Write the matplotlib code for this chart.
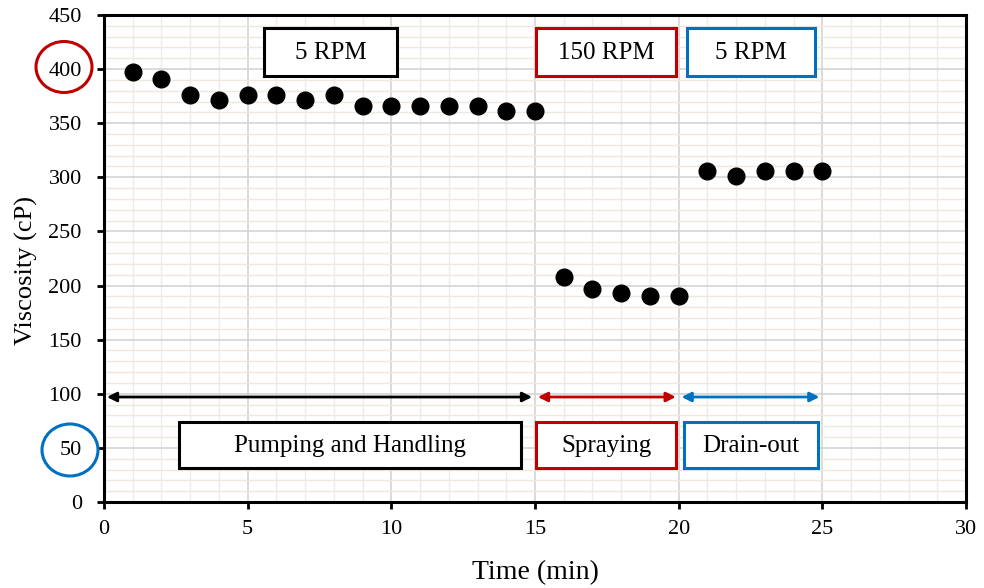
import matplotlib.pyplot as plt
from matplotlib.patches import Rectangle, Ellipse
from matplotlib.ticker import MultipleLocator

# Measured viscosity over time
time_min = [1, 2, 3, 4, 5, 6, 7, 8, 9, 10, 11, 12, 13, 14, 15,
            16, 17, 18, 19, 20,
            21, 22, 23, 24, 25]
viscosity_cp = [397, 391, 376, 371, 376, 376, 371, 376, 366, 366, 366, 366, 366, 361, 361,
                208, 197, 193, 190, 190,
                306, 301, 306, 306, 306]

# Stage labels and their time spans
stage_names = ["Pumping and Handling", "Spraying", "Drain-out"]
stage_speeds = ["5 RPM", "150 RPM", "5 RPM"]
stage_start = [0, 15, 20]
stage_end = [15, 20, 25]
stage_colors = ["black", "#C00000", "#0070C0"]

plt.rcParams['font.family'] = ['Liberation Serif', 'DejaVu Serif']

fig = plt.figure(figsize=(9.84, 5.88), dpi=100)
ax = fig.add_axes([0.1057, 0.1463, 0.876, 0.8282])

ax.plot(time_min, viscosity_cp, 'o', color='black', markersize=12, zorder=5)

ax.set_xlim(0, 30)
ax.set_ylim(0, 450)
ax.xaxis.set_major_locator(MultipleLocator(5))
ax.yaxis.set_major_locator(MultipleLocator(50))
ax.xaxis.set_minor_locator(MultipleLocator(1))
ax.yaxis.set_minor_locator(MultipleLocator(10))

# grid: gray majors, light minors (beige horizontal)
ax.grid(which='major', axis='both', color='#D4D4D4', linewidth=1.2, zorder=0)
ax.grid(which='minor', axis='x', color='#ECECEC', linewidth=1.0, zorder=0)
ax.grid(which='minor', axis='y', color='#EEE8DE', linewidth=1.0, zorder=0)
ax.set_axisbelow(True)

for side in ['left', 'bottom', 'top', 'right']:
    ax.spines[side].set_linewidth(2.2)
    ax.spines[side].set_color('black')

ax.tick_params(which='major', direction='out', length=5, width=2, colors='black')
ax.tick_params(axis='x', labelsize=16, pad=8)
ax.tick_params(axis='y', labelsize=16, pad=11)
ax.tick_params(which='minor', length=0)
ax.set_xlabel('Time (min)', fontsize=20, labelpad=15)
ax.set_ylabel('Viscosity (cP)', fontsize=19)
ax.yaxis.set_label_coords(-0.077, 0.476)

# stage arrows, speed boxes, stage name boxes
for name, speed, x0, x1, c in zip(stage_names, stage_speeds, stage_start, stage_end, stage_colors):
    ax.annotate('', xy=(x1 - 0.1, 97), xytext=(x0 + 0.1, 97),
                arrowprops=dict(arrowstyle='<|-|>', color=c, lw=2,
                                mutation_scale=14, shrinkA=0, shrinkB=0), zorder=6)

speed_box_x = [(5.57, 10.2), (15.05, 19.9), (20.3, 24.75)]
name_box_x = [(2.6, 14.5), (15.05, 19.9), (20.2, 24.85)]
for (a, b), speed, c in zip(speed_box_x, stage_speeds, stage_colors):
    ax.add_patch(Rectangle((a, 394), b - a, 44, facecolor='white', edgecolor=c,
                           linewidth=2.2, zorder=7))
    ax.text((a + b) / 2, 415, speed, ha='center', va='center', fontsize=18, zorder=8)
for (a, b), name, c in zip(name_box_x, stage_names, stage_colors):
    ax.add_patch(Rectangle((a, 31.5), b - a, 42.5, facecolor='white', edgecolor=c,
                           linewidth=2.2, zorder=7))
    ax.text((a + b) / 2, 52, name, ha='center', va='center', fontsize=18, zorder=8)

# highlight circles around tick labels
W, H = 984, 588
fig.add_artist(Ellipse((64 / W, 1 - 67 / H), 56 / W, 51 / H, transform=fig.transFigure,
                       fill=False, edgecolor='#C00000', linewidth=2.2))
fig.add_artist(Ellipse((70 / W, 1 - 450 / H), 56 / W, 52 / H, transform=fig.transFigure,
                       fill=False, edgecolor='#0070C0', linewidth=2.2))

fig.savefig('out.png', dpi=100)
